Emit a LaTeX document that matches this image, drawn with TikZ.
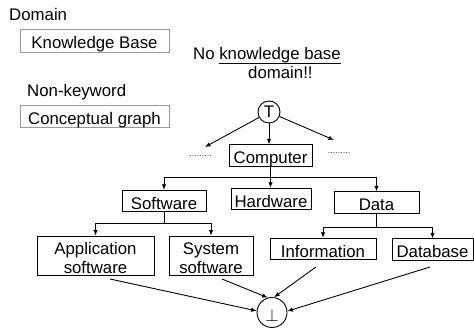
\documentclass[tikz,border=0pt]{standalone}
\usepackage{fontspec}
\setmainfont{Liberation Sans}
\usetikzlibrary{arrows.meta}
% two centred lines, baseline on the last one
\newcommand\TwoLines[2]{\begin{tabular}[b]{@{}c@{}}#1\\#2\end{tabular}}
% underline drawn close to the baseline
\newcommand\UnderWord[1]{{\setbox0\hbox{#1}\rlap{\rule[-4.2pt]{\wd0}{0.9pt}}\box0}}
\begin{document}
\begin{tikzpicture}[x=1pt, y=-1pt,
  font=\fontsize{16.8}{19}\selectfont,
  box/.style={draw, line width=0.9pt, rectangle, inner xsep=0pt, inner ysep=0pt,
              text height=19pt, text depth=2.5pt},
  twobox/.style={box, text height=38pt, text depth=1pt},
  greybox/.style={box, draw=black!40},
  conc/.style={draw, circle, line width=0.9pt, inner sep=0pt},
  dots/.style={font=\fontsize{9}{10}\selectfont, text=black!75, anchor=base, inner sep=0pt},
  arr/.style={line width=0.9pt, -{Latex[length=5.5pt, width=4.5pt]}},
  link/.style={line width=0.9pt}]
\useasboundingbox (0,0) rectangle (474,328);

% legend
\node[anchor=base west, inner sep=0pt] (dom) at (9,21) {Domain};
\node[greybox, minimum width=149pt, minimum height=23pt] (kb) at (94.5,40.75) {Knowledge Base};
\node[anchor=base west, inner sep=0pt] (nkw) at (27,97) {Non-keyword};
\node[greybox, minimum width=149pt, minimum height=22pt] (cg) at (94.5,116) {Conceptual graph};

% heading
\node[anchor=base west, inner sep=0pt] (h1) at (193,60) {No \UnderWord{knowledge base}};
\node[anchor=base west, inner sep=0pt] (h2) at (248,79) {domain!!};

% top and bottom concepts
\node[conc, minimum size=22pt] (top) at (269,112) {T};
\node[conc, minimum size=30pt, text height=17.7pt, text depth=0pt] (bot) at (272,312.5) {$\perp$};

% hierarchy
\node[dots] (dl) at (200.5,157) {.........};
\node[dots] (dr) at (339,154) {.........};
\coordinate (aL) at (205,147);
\coordinate (aR) at (334,140);

\node[box, minimum width=83pt] (comp) at (270.5,155.5) {Computer};
\node[box, minimum width=84pt] (soft) at (164,201) {Software};
\node[box, minimum width=80pt] (hard) at (271,199) {Hardware};
\node[box, minimum width=85pt] (data) at (376.5,202.5) {Data};
\node[twobox, minimum width=117pt] (app) at (95.5,255.5) {\TwoLines{Application}{software}};
\node[twobox, minimum width=84pt] (sys) at (211,255.5) {\TwoLines{System}{software}};
\node[box, minimum width=106pt] (info) at (323,249) {Information};
\node[box, minimum width=81pt] (db) at (432.5,249.5) {Database};

% links from the top concept
\draw[arr] (top) -- (aL);
\draw[arr] (top) -- (aR);
\draw[arr] (top) -- (top |- comp.north);

% Computer
\draw[arr] (comp.south) -- (comp.south |- hard.north);
\draw[link] (comp.south) -- ++(0,10.75) coordinate (bus1);
\draw[arr] (bus1) -| (soft.north);
\draw[arr] (bus1) -| (data.north);

% Software
\draw[link] (soft.south) -- ++(0,11.25) coordinate (bus2);
\draw[arr] (bus2) -| (app.north);
\draw[arr] (bus2) -| (sys.north);

% Data
\draw[link] (data.south) -- ++(0,13.75) coordinate (bus3);
\draw[arr] (bus3) -| (info.north);
\draw[arr] (bus3) -| (db.north);

% links to the bottom concept
\coordinate (oApp) at (110,279);
\coordinate (oSys) at (222,279);
\coordinate (oInf) at (316,267);
\coordinate (oDb)  at (430,267);
\draw[arr] (oApp) -- (bot.174);
\draw[arr] (oSys) -- (bot.106);
\draw[arr] (oInf) -- (bot.82);
\draw[arr] (oDb)  -- (bot.5);
\end{tikzpicture}
\end{document}
